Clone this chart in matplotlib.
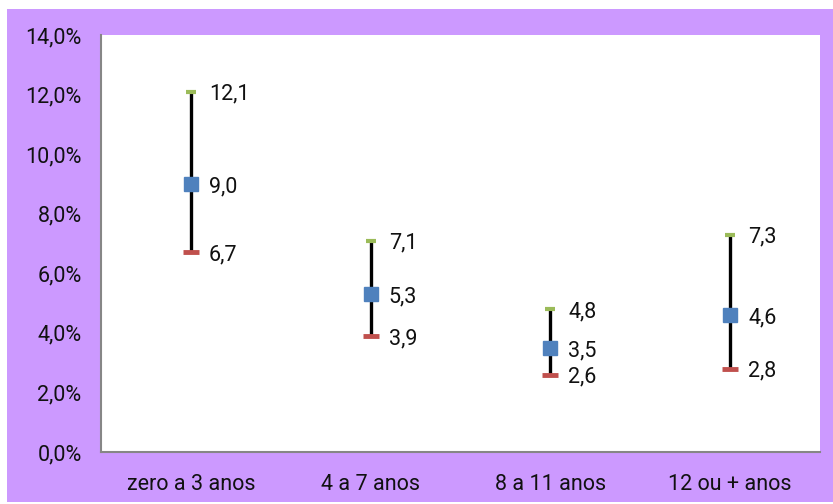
import matplotlib
matplotlib.use("Agg")
import matplotlib.pyplot as plt
from matplotlib.patches import Rectangle

categories = ["zero a 3 anos", "4 a 7 anos", "8 a 11 anos", "12 ou + anos"]
high = [12.1, 7.1, 4.8, 7.3]
mid = [9.0, 5.3, 3.5, 4.6]
low = [6.7, 3.9, 2.6, 2.8]
yticks = [0, 2, 4, 6, 8, 10, 12, 14]

plt.rcParams['font.family'] = ['Roboto', 'DejaVu Sans']
FS = 15.5

W, H = 833, 504
fig = plt.figure(figsize=(W/100, H/100), dpi=100, facecolor="white")
bg = Rectangle((7/W, 1 - 502/H), (833-7)/W, (502-9)/H,
               transform=fig.transFigure, facecolor="#CC99FF",
               edgecolor="none", zorder=-10)
fig.add_artist(bg)
ax = fig.add_axes([101/W, 1 - 452/H, (820-101)/W, (452-35)/H])
ax.set_zorder(1)
ax.set_facecolor("white")

x = list(range(len(categories)))
ax.vlines(x, low, high, color="black", lw=2.4, zorder=2)
ax.plot(x, high, ls="none", marker="_", ms=7, mew=3, color="#9BBB59", zorder=3)
ax.plot(x, low, ls="none", marker="_", ms=11, mew=3.5, color="#C0504D", zorder=3)
ax.plot(x, mid, ls="none", marker="s", ms=10, color="#4F81BD", zorder=4)

def fmt(v):
    return f"{v:.1f}".replace(".", ",")

for arr in [high, mid, low]:
    for i, v in zip(x, arr):
        ax.annotate(fmt(v), (i, v), xytext=(13, -2), textcoords="offset points",
                    va="center", ha="left", fontsize=FS, color="#111111")

ax.set_xlim(-0.5, 3.5)
ax.set_ylim(0, 14)
ax.set_yticks(yticks)
ax.set_yticklabels([fmt(v) + "%" for v in yticks], fontsize=FS, color="#111111")
ax.set_xticks(x)
ax.set_xticklabels(categories, fontsize=FS, color="#111111")
ax.tick_params(axis="y", length=0, pad=14)
ax.tick_params(axis="x", length=0, pad=16)
for s in ["top", "right"]:
    ax.spines[s].set_visible(False)
for s in ["left", "bottom"]:
    ax.spines[s].set_color("#868686")
    ax.spines[s].set_linewidth(1.5)

fig.savefig("out.png", dpi=100, facecolor="white")
